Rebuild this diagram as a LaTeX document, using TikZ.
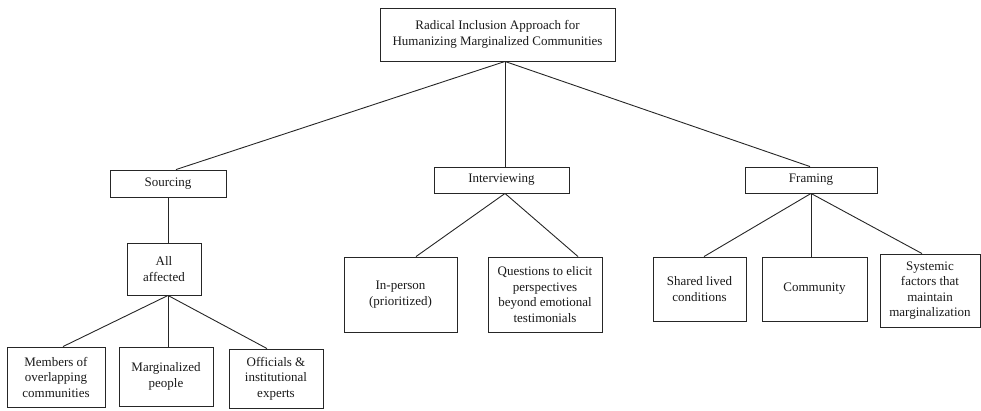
\documentclass[tikz,border=0pt]{standalone}
\usepackage{fontspec}
\setmainfont{Liberation Serif}
\usetikzlibrary{calc}
\begin{document}
\begin{tikzpicture}[x=1pt,y=-1pt,
  box/.style={draw=black!85,line width=0.9pt,rectangle,align=center,inner sep=1pt,
    font=\fontsize{13}{15.5}\selectfont,text=black!90},
  link/.style={draw=black!85,line width=0.9pt}]
\useasboundingbox (0,0) rectangle (981,410);
% nodes
\node[box,minimum width=235,minimum height=53] (top) at (497.5,34.5) {Radical Inclusion Approach for\\Humanizing Marginalized Communities};
\node[box,minimum width=116,minimum height=27] (src) at (168,183.5) {Sourcing};
\node[box,minimum width=135,minimum height=26] (int) at (501.5,180) {Interviewing};
\node[box,minimum width=132,minimum height=26] (frm) at (811,180) {Framing};
\node[box,minimum width=74,minimum height=52] (all) at (164,269) {All\\affected};
\node[box,minimum width=98,minimum height=60] (mem) at (56,377) {Members of\\overlapping\\communities};
\node[box,minimum width=94,minimum height=59] (mar) at (166,376.5) {Marginalized\\people};
\node[box,minimum width=94,minimum height=59] (off) at (276,378.5) {Officials \&\\institutional\\experts};
\node[box,minimum width=113,minimum height=75] (inp) at (400.5,294.5) {In-person\\(prioritized)};
\node[box,minimum width=114,minimum height=75] (que) at (545,294.5) {Questions to elicit\\perspectives\\beyond emotional\\testimonials};
\node[box,minimum width=93,minimum height=64] (sha) at (699.5,289) {Shared lived\\conditions};
\node[box,minimum width=105,minimum height=64] (com) at (814.5,289) {Community};
\node[box,minimum width=100,minimum height=73] (sys) at (930,290.5) {Systemic\\factors that\\maintain\\marginalization};
% connectors
\coordinate (topb) at ($(top.south)+(7.5,0)$);
\draw[link] (topb) -- ($(src.north)+(8,0)$);
\draw[link] (topb) -- ($(int.north)+(3.5,0)$);
\draw[link] (topb) -- ($(frm.north)+(-1,0)$);
\draw[link] (src.south) -- (src.south |- all.north);
\coordinate (allb) at ($(all.south)+(4,0)$);
\draw[link] (allb) -- ($(mem.north)+(7,0)$);
\draw[link] (allb) -- ($(mar.north)+(2,0)$);
\draw[link] (allb) -- ($(off.north)+(-9,0)$);
\coordinate (intb) at ($(int.south)+(3.5,0)$);
\draw[link] (intb) -- ($(inp.north)+(15.5,0)$);
\draw[link] (intb) -- ($(que.north)+(33,0)$);
\coordinate (frmb) at (frm.south);
\draw[link] (frmb) -- ($(sha.north)+(4.5,0)$);
\draw[link] (frmb) -- (frmb |- com.north);
\draw[link] (frmb) -- ($(sys.north)+(-8,0)$);
\end{tikzpicture}
\end{document}
